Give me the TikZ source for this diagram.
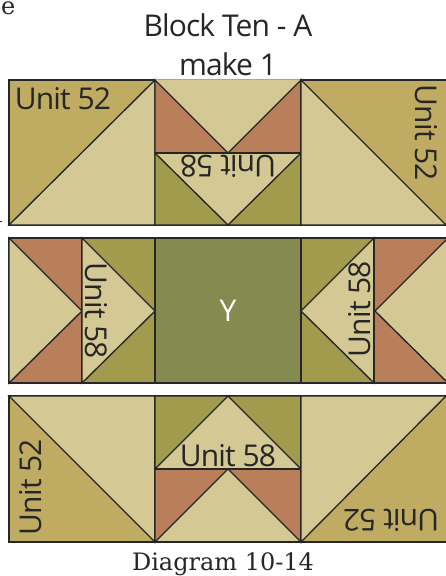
\documentclass[tikz,border=0pt]{standalone}
\usepackage{fontspec}
\setmainfont{Open Sans}
\newfontfamily\capfont{DejaVu Serif}
\definecolor{gold}{HTML}{BFAB62}
\definecolor{cream}{HTML}{D4C994}
\definecolor{rust}{HTML}{B97F5B}
\definecolor{olive}{HTML}{A29B4E}
\definecolor{moss}{HTML}{858A50}
\definecolor{ink}{HTML}{262626}
\tikzset{
  patch/.style={draw=ink,line width=1.35pt,line join=miter},
  unitlabel/.style={text=ink,font=\fontsize{30}{30}\selectfont\addfontfeatures{LetterSpace=-3},inner sep=0pt},
  titlelabel/.style={text=ink,font=\fontsize{30}{30}\selectfont\addfontfeatures{LetterSpace=-3},inner sep=0pt},
  caplabel/.style={text=ink,font=\capfont\fontsize{24}{24}\selectfont,inner sep=0pt},
}
\begin{document}
\begin{tikzpicture}[x=1pt,y=-1pt]
\useasboundingbox (0,0) rectangle (446,576);
\clip (0,0) rectangle (446,576);
% row 1
\fill[patch,fill=gold] (9,80) rectangle (155,225);
\fill[patch,fill=cream] (9,225) -- (155,80) -- (155,225) -- cycle;
\fill[fill=cream] (155,80) rectangle (301,225);
\draw[draw=gray!70,line width=0.8pt] (155,79.5) -- (301,79.5);
\draw[patch] (155,225) -- (301,225);
\fill[patch,fill=rust] (155,80) -- (228,153) -- (155,153) -- cycle;
\fill[patch,fill=rust] (301,80) -- (228,153) -- (301,153) -- cycle;
\fill[patch,fill=olive] (155,153) -- (228,225) -- (155,225) -- cycle;
\fill[patch,fill=olive] (301,153) -- (228,225) -- (301,225) -- cycle;
\draw[patch] (155,153) -- (301,153);
\fill[patch,fill=gold] (301,80) rectangle (450,225);
\fill[patch,fill=cream] (301,80) -- (446,225) -- (301,225) -- cycle;
% row 2
\fill[patch,fill=rust] (9,238) rectangle (82,383);
\fill[patch,fill=cream] (9,238) -- (82,311) -- (9,383) -- cycle;
\fill[patch,fill=olive] (82,238) rectangle (155,383);
\fill[patch,fill=cream] (82,238) -- (155,311) -- (82,383) -- cycle;
\fill[patch,fill=moss] (155,238) rectangle (301,383);
\fill[patch,fill=olive] (301,238) rectangle (374,383);
\fill[patch,fill=cream] (374,238) -- (301,311) -- (374,383) -- cycle;
\fill[patch,fill=rust] (374,238) rectangle (450,383);
\fill[patch,fill=cream] (448,238) -- (375,311) -- (448,383) -- cycle;
% row 3
\fill[patch,fill=gold] (9,396) rectangle (155,542);
\fill[patch,fill=cream] (9,396) -- (155,396) -- (155,542) -- cycle;
\fill[patch,fill=cream] (155,396) rectangle (301,542);
\fill[patch,fill=olive] (155,396) -- (228,396) -- (155,469) -- cycle;
\fill[patch,fill=olive] (301,396) -- (228,396) -- (301,469) -- cycle;
\fill[patch,fill=rust] (155,469) -- (228,469) -- (155,542) -- cycle;
\fill[patch,fill=rust] (301,469) -- (228,469) -- (301,542) -- cycle;
\draw[patch] (155,469) -- (301,469);
\fill[patch,fill=gold] (301,396) rectangle (450,542);
\fill[patch,fill=cream] (301,396) -- (446,396) -- (301,542) -- cycle;
% labels
\node[titlelabel] (title1) at (228,25) {Block Ten - A};
\node[titlelabel] (title2) at (228,64) {make 1};
\node[unitlabel] (u1) at (63,99) {Unit 52};
\node[unitlabel,rotate=180] (u2) at (228,166) {Unit 58};
\node[unitlabel,rotate=-90] (u3) at (426,133) {Unit 52};
\node[unitlabel,rotate=-90] (u4) at (96,311) {Unit 58};
\node[unitlabel,rotate=90] (u5) at (360,309) {Unit 58};
\node[text=white,font=\fontsize{30}{30}\selectfont,inner sep=0pt] (y) at (228,311) {Y};
\node[unitlabel] (u6) at (228,456) {Unit 58};
\node[unitlabel,rotate=90] (u7) at (31,487) {Unit 52};
\node[unitlabel,rotate=180] (u8) at (391,520) {Unit 52};
\node[caplabel] (cap) at (223,564) {Diagram 10-14};
\node[caplabel,anchor=base west] (stray) at (1,14) {e};
\fill[ink] (0,220.5) rectangle (1.5,222);
\end{tikzpicture}
\end{document}
